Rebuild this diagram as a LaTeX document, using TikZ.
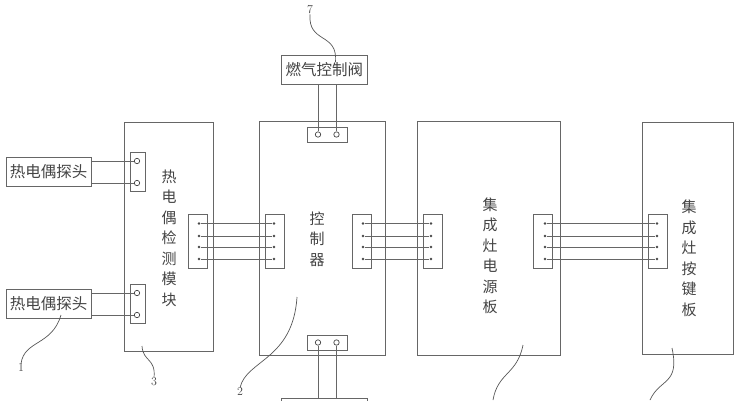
\documentclass[tikz,border=0pt]{standalone}
\usepackage{fontspec}
\newfontfamily\cjk{Noto Sans CJK SC}
\definecolor{ln}{HTML}{666666}
\definecolor{tx}{HTML}{444444}
\tikzset{
  x=1pt,y=-1pt,
  box/.style={draw=ln,line width=.95pt,fill=white,inner sep=0pt,font=\cjk\fontsize{15.5}{15.5}\selectfont,text=tx},
  vtext/.style={inner sep=0pt,align=center,text=tx,font=\cjk\fontsize{15}{20.5}\selectfont},
  pinbox/.style={draw=ln,line width=.8pt,fill=white,inner sep=0pt,minimum width=19pt,minimum height=54pt},
  termbox/.style={draw=ln,line width=.8pt,fill=white,inner sep=0pt},
  hole/.style={circle,draw=ln!70!black,line width=.7pt,fill=white,inner sep=0pt,minimum size=5.4pt},
  pin/.style={circle,fill=ln!70!black,inner sep=0pt,minimum size=2.8pt},
  wire/.style={draw=ln,line width=.9pt},
  lead/.style={draw=ln!85!black,line width=.7pt},
  num/.style={inner sep=0pt,text=tx,font=\fontsize{12}{12}\selectfont}
}
\newcommand{\pins}[3]{% prefix, pin x, unused
  \node[pin] (#1a) at (#2,223.5) {};
  \node[pin] (#1b) at (#2,236) {};
  \node[pin] (#1c) at (#2,247) {};
  \node[pin] (#1d) at (#2,259) {};
}
\begin{document}
\begin{tikzpicture}
\useasboundingbox (0,0) rectangle (740,400);
\clip (0,0) rectangle (740,400);
% large boards
\node[box,minimum width=88.5pt,minimum height=229pt] (module) at (168.75,236.5) {};
\node[box,minimum width=126.5pt,minimum height=234pt] (ctrl) at (322.25,238) {};
\node[box,minimum width=143pt,minimum height=234pt] (power) at (488.5,238) {};
\node[box,minimum width=91pt,minimum height=232pt] (keys) at (687.5,238) {};
% labelled boxes
\node[box,minimum width=85pt,minimum height=29pt] (probeA) at (48.5,171.5) {热电偶探头};
\node[box,minimum width=85pt,minimum height=29pt] (probeB) at (48.5,303.5) {热电偶探头};
\node[box,minimum width=85.5pt,minimum height=29pt] (valve) at (324.25,70) {燃气控制阀};
\node[box,minimum width=85.5pt,minimum height=29pt] (lowbox) at (324.25,412.5) {};
% terminal blocks
\node[termbox,minimum width=15pt,minimum height=39pt] (tA) at (137.5,171.5) {};
\node[termbox,minimum width=15pt,minimum height=39pt] (tB) at (137.5,303.5) {};
\node[termbox,minimum width=40pt,minimum height=15pt] (tC) at (327,134.5) {};
\node[termbox,minimum width=40pt,minimum height=14.5pt] (tD) at (327,342.75) {};
\node[hole] (a1) at (137,161) {};
\node[hole] (a2) at (137,183) {};
\node[hole] (b1) at (137,293) {};
\node[hole] (b2) at (137,315) {};
\node[hole] (c1) at (318,134.5) {};
\node[hole] (c2) at (336.5,134.5) {};
\node[hole] (d1) at (318,342.5) {};
\node[hole] (d2) at (336.5,342.5) {};
% pin blocks
\node[pinbox] (pm) at (197.5,241) {};
\node[pinbox] (pcl) at (275,241) {};
\node[pinbox] (pcr) at (362,241) {};
\node[pinbox] (ppl) at (433,241) {};
\node[pinbox] (ppr) at (543.25,241) {};
\node[pinbox] (pk) at (657.75,241) {};
\pins{m}{199}{}
\pins{n}{274}{}
\pins{q}{363}{}
\pins{r}{431}{}
\pins{s}{545}{}
\pins{t}{657}{}
% wires
\foreach \w in {a,b,c,d}{
  \draw[wire] (m\w) -- (n\w);
  \draw[wire] (q\w) -- (r\w);
  \draw[wire] (s\w) -- (t\w);
}
\draw[wire] (probeA.east |- a1) -- (a1.west);
\draw[wire] (probeA.east |- a2) -- (a2.west);
\draw[wire] (probeB.east |- b1) -- (b1.west);
\draw[wire] (probeB.east |- b2) -- (b2.west);
\draw[wire] (valve.south -| c1) -- (c1.north);
\draw[wire] (valve.south -| c2) -- (c2.north);
\draw[wire] (d1.south) -- (d1.south |- lowbox.north);
\draw[wire] (d2.south) -- (d2.south |- lowbox.north);
% vertical labels
\node[vtext] (lm) at (169,238) {热\\电\\偶\\检\\测\\模\\块};
\node[vtext] (lc) at (317,239) {控\\制\\器};
\node[vtext] (lp) at (490,256) {集\\成\\灶\\电\\源\\板};
\node[vtext] (lk) at (689,258.5) {集\\成\\灶\\按\\键\\板};
% reference numbers and leaders
\node[num] (n1) at (21,368) {1};
\node[num] (n2) at (240,392) {2};
\node[num] (n3) at (154,382) {3};
\node[num] (n7) at (310,10) {7};
\coordinate (e1) at (61,315);
\coordinate (e2) at (297,297);
\coordinate (e3) at (142,346);
\coordinate (e7) at (335.5,62);
\coordinate (e4a) at (523,345);
\coordinate (e4b) at (493,400);
\coordinate (e5a) at (672,348);
\coordinate (e5b) at (650,400);
\draw[lead] (n1.north) .. controls (24,340) and (52,346) .. (e1);
\draw[lead] (n3.north) .. controls (156,358) and (143,362) .. (e3);
\draw[lead] (n2.north) .. controls (246,360) and (293,360) .. (e2);
\draw[lead] (n7.south) .. controls (308,44) and (338,32) .. (e7);
\draw[lead] (e4a) .. controls (517,375) and (498,372) .. (e4b);
\draw[lead] (e5a) .. controls (680,385) and (660,378) .. (e5b);
\end{tikzpicture}
\end{document}
